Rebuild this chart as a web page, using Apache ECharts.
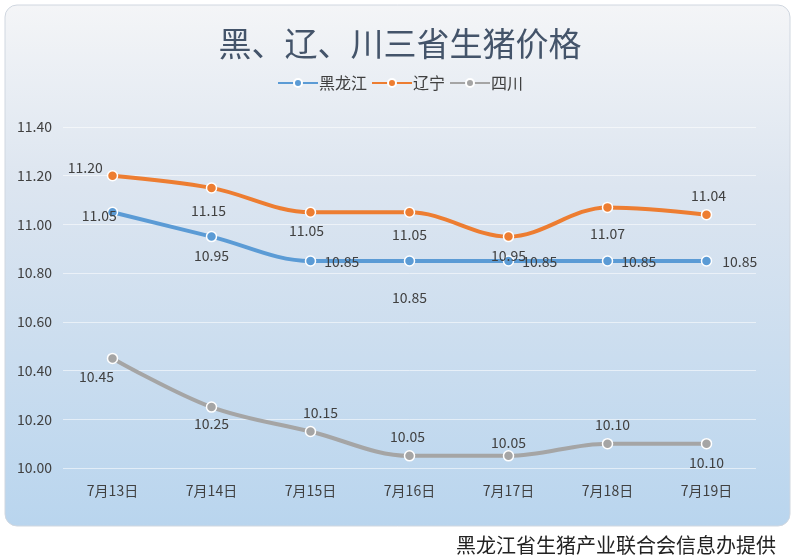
<!DOCTYPE html>
<html>
<head>
<meta charset="utf-8">
<script src="https://cdn.jsdelivr.net/npm/echarts@6/dist/echarts.min.js"></script>
<style>
  html, body { margin: 0; padding: 0; background: #fff; }
  #chart_pig { width: 800px; height: 560px; }
</style>
</head>
<body>
<div id="chart_pig"></div>
<script>
// 日期
const dates = ['7月13日', '7月14日', '7月15日', '7月16日', '7月17日', '7月18日', '7月19日']
// 各省价格（元/公斤）
const heilongjiang = [11.05, 10.95, 10.85, 10.85, 10.85, 10.85, 10.85]
const liaoning = [11.20, 11.15, 11.05, 11.05, 10.95, 11.07, 11.04]
const sichuan = [10.45, 10.25, 10.15, 10.05, 10.05, 10.10, 10.10]
const seriesNames = ['黑龙江', '辽宁', '四川']
const yTicks = [10.0, 10.2, 10.4, 10.6, 10.8, 11.0, 11.2, 11.4]

// 数值标签的摆放（跟原图一致）
const labelPlace = {
  黑龙江: [['left', [16, 3]], ['bottom', [0, 0]], ['right', [2, 1]], ['bottom', [0, 18]], ['right', [2, 1]], ['right', [2, 1]], ['right', [4, 1]]],
  辽宁: [['left', [2, -8]], ['bottom', [-3, 4]], ['bottom', [-4, 0]], ['bottom', [0, 4]], ['bottom', [0, 0]], ['bottom', [0, 8]], ['top', [2, 0]]],
  四川: [['bottom', [-16, 0]], ['bottom', [0, -2]], ['top', [10, 0]], ['top', [-2, 0]], ['top', [0, 6]], ['top', [5, 0]], ['bottom', [0, 0]]]
}

const colors = ['#5B9BD5', '#ED7D31', '#A5A5A5']
const fontCN = '"Noto Sans CJK SC", "Noto Sans", sans-serif'

function makeSeries(name, values, color) {
  return {
    name: name,
    type: 'line',
    smooth: 0.35,
    data: values.map((v, i) => ({
      value: v,
      label: {
        position: labelPlace[name][i][0],
        offset: labelPlace[name][i][1]
      }
    })),
    symbol: 'circle',
    symbolSize: 10,
    lineStyle: { width: 4, color: color },
    itemStyle: { color: color, borderColor: '#fff', borderWidth: 1.5 },
    label: {
      show: true,
      distance: 6,
      color: '#404040',
      fontSize: 14,
      fontFamily: fontCN,
      formatter: p => p.value.toFixed(2)
    },
    z: 3
  }
}

const myChart = echarts.init(document.getElementById('chart_pig'))
const option = {
  animation: false,
  backgroundColor: '#fff',
  graphic: [
    {
      type: 'rect',
      shape: { x: 5, y: 5, width: 785, height: 521, r: 12 },
      style: {
        fill: {
          type: 'linear', x: 0, y: 0, x2: 0, y2: 1,
          colorStops: [
            { offset: 0, color: '#F4F5F7' },
            { offset: 0.35, color: '#DCE5F0' },
            { offset: 1, color: '#B9D5EE' }
          ]
        },
        stroke: '#D0D7E0',
        lineWidth: 1
      },
      z: -10
    },
    {
      type: 'text',
      right: 24,
      top: 535,
      style: {
        text: '黑龙江省生猪产业联合会信息办提供',
        fill: '#222',
        font: '20px "Noto Sans CJK SC", sans-serif'
      }
    }
  ],
  title: {
    text: '黑、辽、川三省生猪价格',
    left: 'center',
    top: 22,
    textStyle: {
      fontFamily: fontCN,
      fontSize: 33,
      fontWeight: 'normal',
      color: '#44546A'
    }
  },
  legend: {
    top: 70,
    left: 'center',
    itemWidth: 40,
    itemHeight: 10,
    itemGap: 4,
    textStyle: { fontFamily: fontCN, fontSize: 16, color: '#404040', padding: [0, 0, 0, -4] },
    data: seriesNames
  },
  grid: {
    left: 63,
    right: 44,
    top: 127,
    bottom: 92
  },
  xAxis: {
    type: 'category',
    data: dates,
    boundaryGap: true,
    axisLine: { show: false },
    axisTick: { show: false },
    axisLabel: { color: '#404040', fontSize: 14, fontFamily: fontCN, margin: 16 }
  },
  yAxis: {
    type: 'value',
    min: yTicks[0],
    max: yTicks[yTicks.length - 1],
    interval: 0.2,
    axisLine: { show: false },
    axisTick: { show: false },
    axisLabel: {
      color: '#404040',
      fontSize: 14,
      fontFamily: fontCN,
      margin: 11,
      formatter: v => v.toFixed(2)
    },
    splitLine: { lineStyle: { color: 'rgba(255,255,255,0.55)', width: 1 } }
  },
  series: [
    makeSeries(seriesNames[0], heilongjiang, colors[0]),
    makeSeries(seriesNames[1], liaoning, colors[1]),
    makeSeries(seriesNames[2], sichuan, colors[2])
  ]
}
myChart.setOption(option)
</script>
</body>
</html>
